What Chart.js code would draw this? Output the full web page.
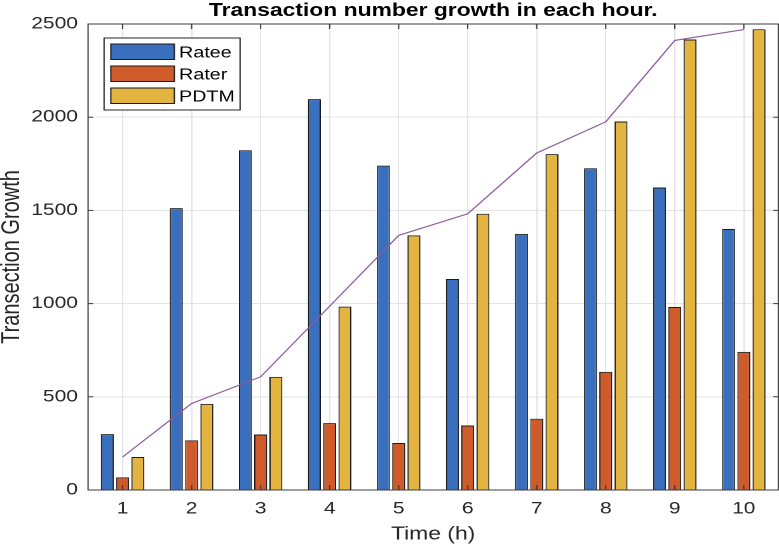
<!DOCTYPE html>
<html>
<head>
<meta charset="utf-8">
<script src="https://cdn.jsdelivr.net/npm/chart.js@4.4.1/dist/chart.umd.min.js"></script>
<style>
  html, body { margin: 0; padding: 0; background: #fff; overflow: hidden; }
  /* the reference picture is stretched sideways, so draw narrow and widen */
  #wrap { width: 613px; height: 550px; transform: scaleX(1.2708); transform-origin: 0 0; }
</style>
</head>
<body>
<div id="wrap"><canvas id="myChart"></canvas></div>
<script>
const hours = ["1", "2", "3", "4", "5", "6", "7", "8", "9", "10"];
const ratee = [300, 1512, 1823, 2097, 1740, 1132, 1374, 1726, 1623, 1400];
const rater = [68, 266, 298, 359, 252, 346, 382, 634, 982, 741];
const pdtm = [177, 462, 607, 984, 1366, 1482, 1802, 1977, 2417, 2472];
const trend = [177, 464, 607, 986, 1366, 1482, 1808, 1975, 2412, 2470];
const yTicks = [0, 500, 1000, 1500, 2000, 2500];

const FONT = '"Liberation Sans", Arial, sans-serif';
const AXIS = "#3c3c3c";
const TEXT = "#262626";

// title, box, inward ticks and legend drawn like the MATLAB figure
const matlabFrame = {
  id: "matlabFrame",
  afterDraw(chart) {
    const { ctx, chartArea: a, scales } = chart;
    const x = scales.x;
    const y = scales.y;
    ctx.save();

    // title
    ctx.fillStyle = "#000";
    ctx.font = "bold 18px " + FONT;
    ctx.textAlign = "center";
    ctx.textBaseline = "alphabetic";
    ctx.fillText("Transaction number growth in each hour.", (a.left + a.right) / 2, 16);

    // box and tick marks
    ctx.strokeStyle = AXIS;
    ctx.lineWidth = 1;
    ctx.strokeRect(a.left, a.top, a.width, a.height);
    ctx.beginPath();
    x.ticks.forEach((t, i) => {
      const px = x.getPixelForTick(i);
      ctx.moveTo(px, a.bottom);
      ctx.lineTo(px, a.bottom - 5);
      ctx.moveTo(px, a.top);
      ctx.lineTo(px, a.top + 5);
    });
    y.ticks.forEach((t) => {
      const py = y.getPixelForValue(t.value);
      ctx.moveTo(a.left, py);
      ctx.lineTo(a.left + 4, py);
      ctx.moveTo(a.right, py);
      ctx.lineTo(a.right - 4, py);
    });
    ctx.stroke();

    // legend inside the axes, top left
    const bars = chart.data.datasets.filter((d) => d.type !== "line");
    const bx = a.left + 12.6;
    const by = a.top + 14;
    ctx.fillStyle = "#fff";
    ctx.fillRect(bx, by, 107, 72);
    ctx.strokeStyle = TEXT;
    ctx.strokeRect(bx, by, 107, 72);
    ctx.font = "15.5px " + FONT;
    ctx.textAlign = "left";
    bars.forEach((d, i) => {
      const top = by + 6 + i * 22;
      ctx.fillStyle = d.backgroundColor;
      ctx.fillRect(bx + 5.3, top, 50, 15.5);
      ctx.strokeStyle = "#1a1a1a";
      ctx.strokeRect(bx + 5.3, top, 50, 15.5);
      ctx.fillStyle = "#000";
      ctx.fillText(d.label, bx + 59, top + 13.3);
    });
    ctx.restore();
  },
};

const ctx = document.getElementById("myChart").getContext("2d");
new Chart(ctx, {
  data: {
    labels: hours,
    datasets: [
      {
        type: "line",
        label: "Trend",
        data: trend,
        borderColor: "#8c5c9e",
        borderWidth: 1.1,
        pointRadius: 0,
        tension: 0,
        order: 0,
      },
      {
        type: "bar",
        label: "Ratee",
        data: ratee,
        backgroundColor: "#3a6fbd",
        borderColor: "#1a1a1a",
        borderWidth: 1,
        order: 1,
      },
      {
        type: "bar",
        label: "Rater",
        data: rater,
        backgroundColor: "#cf5b2a",
        borderColor: "#1a1a1a",
        borderWidth: 1,
        order: 1,
      },
      {
        type: "bar",
        label: "PDTM",
        data: pdtm,
        backgroundColor: "#e3b440",
        borderColor: "#1a1a1a",
        borderWidth: 1,
        order: 1,
      },
    ],
  },
  options: {
    responsive: true,
    maintainAspectRatio: false,
    animation: false,
    devicePixelRatio: 2,
    layout: { padding: { top: 24, right: 0.4, left: 0, bottom: 0 } },
    datasets: {
      bar: { categoryPercentage: 0.663, barPercentage: 0.85 },
    },
    plugins: {
      legend: { display: false },
      tooltip: { enabled: false },
      title: { display: false },
    },
    scales: {
      x: {
        offset: true,
        grid: { offset: false, color: "#e3e3e3", drawTicks: false },
        border: { display: false },
        ticks: { color: TEXT, padding: 9, font: { family: FONT, size: 16.5 } },
        title: {
          display: true,
          text: "Time (h)",
          color: TEXT,
          font: { family: FONT, size: 18 },
          padding: { top: 0, bottom: 4.7 },
        },
        afterFit(scale) {
          scale.height = 60;
        },
      },
      y: {
        min: 0,
        max: 2500,
        grid: { color: "#e3e3e3", drawTicks: false },
        border: { display: false },
        ticks: {
          color: TEXT,
          padding: 8,
          font: { family: FONT, size: 16.5 },
          callback: (v) => String(v),
        },
        afterBuildTicks(scale) {
          scale.ticks = yTicks.map((v) => ({ value: v }));
        },
        title: {
          display: true,
          text: "Transection Growth",
          color: TEXT,
          font: { family: FONT, size: 20, lineHeight: 0.95 },
          padding: { top: 0, bottom: 0 },
        },
        afterFit(scale) {
          scale.width = 69.3;
        },
      },
    },
  },
  plugins: [matlabFrame],
});
</script>
</body>
</html>
